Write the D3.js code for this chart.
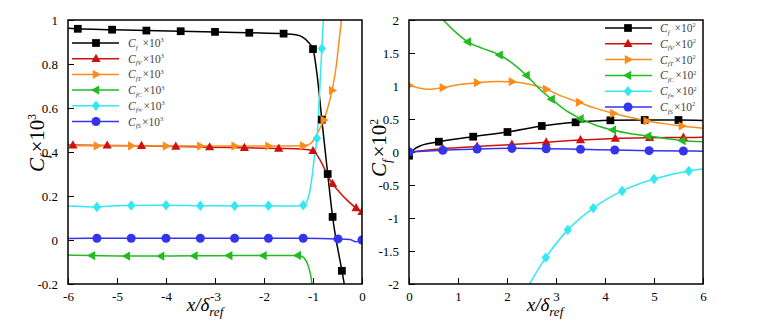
<!DOCTYPE html>
<html><head><meta charset="utf-8">
<script src="https://cdn.jsdelivr.net/npm/d3@7"></script>
<style>
html,body{margin:0;padding:0;background:#fff;}
svg{display:block;font-family:"Liberation Serif","DejaVu Serif",serif;}
svg text{font-family:"Liberation Serif","DejaVu Serif",serif;}
</style></head>
<body><svg id="c" width="759" height="328"></svg>
<script>
// ---------------- DATA ----------------
// Left panel (x/δref in [-6,0], Cf ×10^3)
const leftXTicks = [-6,-5,-4,-3,-2,-1,0];
const leftXTickLabels = ["-6","-5","-4","-3","-2","-1","0"];
const leftYTicks = [-0.2,0,0.2,0.4,0.6,0.8,1];
const leftYTickLabels = ["-0.2","0","0.2","0.4","0.6","0.8","1"];

const L_cf_line = [[-6,0.962],[-5.8,0.96],[-5.1,0.956],[-4.4,0.952],[-3.7,0.949],[-3.0,0.946],[-2.3,0.942],[-1.6,0.938],[-1.35,0.933],[-1.22,0.923],[-1.1,0.9],[-1.0,0.868],[-0.92,0.757],[-0.82,0.547],[-0.7,0.30],[-0.6,0.105],[-0.41,-0.14],[-0.33,-0.24]];
const L_cf_marks = [[-5.8,0.96],[-5.1,0.956],[-4.4,0.952],[-3.7,0.949],[-3.0,0.946],[-2.3,0.942],[-1.6,0.938],[-1.0,0.868],[-0.82,0.547],[-0.7,0.30],[-0.6,0.105],[-0.41,-0.14]];

const L_cfv_line = [[-6,0.432],[-5.2,0.43],[-4.5,0.428],[-3.8,0.425],[-3.1,0.422],[-2.4,0.419],[-1.7,0.416],[-1.2,0.413],[-1.0,0.405],[-0.9,0.38],[-0.8,0.34],[-0.7,0.29],[-0.6,0.255],[-0.45,0.215],[-0.3,0.18],[-0.12,0.145],[0,0.128]];
const L_cfv_marks = [[-5.9,0.431],[-5.2,0.43],[-4.5,0.428],[-3.8,0.425],[-3.11,0.422],[-2.4,0.419],[-1.7,0.416],[-1.0,0.405],[-0.6,0.255],[-0.12,0.145],[0,0.128]];

const L_cft_line = [[-6,0.428],[-5.41,0.428],[-4.71,0.428],[-4.0,0.427],[-3.3,0.427],[-2.6,0.427],[-1.91,0.427],[-1.2,0.428],[-1.1,0.432],[-1.0,0.45],[-0.9,0.49],[-0.78,0.545],[-0.7,0.6],[-0.61,0.68],[-0.52,0.8],[-0.46,0.92],[-0.42,1.0],[-0.39,1.07]];
const L_cft_marks = [[-5.41,0.428],[-4.71,0.428],[-4.0,0.427],[-3.3,0.427],[-2.6,0.427],[-1.91,0.427],[-1.2,0.428],[-0.78,0.545],[-0.61,0.68]];

const L_cfc_line = [[-6,-0.068],[-5.51,-0.071],[-4.8,-0.073],[-4.1,-0.073],[-3.42,-0.072],[-2.71,-0.071],[-2.01,-0.071],[-1.31,-0.07],[-1.22,-0.075],[-1.14,-0.095],[-1.08,-0.13],[-1.04,-0.17],[-1.01,-0.22]];
const L_cfc_marks = [[-5.51,-0.071],[-4.8,-0.073],[-4.1,-0.073],[-3.42,-0.072],[-2.71,-0.071],[-2.01,-0.071],[-1.31,-0.07]];

const L_cfi_line = [[-6,0.155],[-5.7,0.152],[-5.41,0.15],[-5.0,0.156],[-4.71,0.157],[-4.0,0.158],[-3.3,0.156],[-2.6,0.155],[-1.91,0.156],[-1.45,0.154],[-1.2,0.158],[-1.1,0.19],[-1.03,0.27],[-0.97,0.38],[-0.92,0.462],[-0.87,0.65],[-0.82,0.87],[-0.79,1.0],[-0.77,1.1]];
const L_cfi_marks = [[-5.41,0.15],[-4.71,0.157],[-4.0,0.158],[-3.3,0.156],[-2.6,0.155],[-1.91,0.156],[-1.2,0.158],[-0.92,0.462],[-0.82,0.87]];

const L_cfe_line = [[-6,0.007],[-5.41,0.008],[-4.71,0.008],[-4.0,0.008],[-3.3,0.008],[-2.6,0.008],[-1.91,0.008],[-1.2,0.008],[-0.5,0.005],[-0.25,0.002],[-0.12,-0.008],[-0.05,-0.004],[0,0.0]];
const L_cfe_marks = [[-5.41,0.008],[-4.71,0.008],[-4.0,0.008],[-3.3,0.008],[-2.6,0.008],[-1.91,0.008],[-1.2,0.008],[-0.49,0.005],[0,0.0]];

// Right panel (x/δref in [0,6], Cf ×10^2)
const rightXTicks = [0,1,2,3,4,5,6];
const rightXTickLabels = ["0","1","2","3","4","5","6"];
const rightYTicks = [-2,-1.5,-1,-0.5,0,0.5,1,1.5,2];
const rightYTickLabels = ["-2","-1.5","-1","-0.5","0","0.5","1","1.5","2"];

const R_cf_line = [[0,-0.056],[0.05,0.0],[0.12,0.05],[0.25,0.1],[0.4,0.13],[0.61,0.156],[1.31,0.232],[2.01,0.303],[2.71,0.394],[3.4,0.45],[4.11,0.48],[4.81,0.485],[5.5,0.485],[6,0.478]];
const R_cf_marks = [[0,-0.056],[0.61,0.156],[1.31,0.232],[2.01,0.303],[2.71,0.394],[3.4,0.45],[4.11,0.48],[4.81,0.485],[5.5,0.485]];

const R_cfv_line = [[0,0.0],[0.69,0.05],[1.39,0.083],[2.1,0.113],[2.8,0.148],[3.5,0.182],[4.21,0.205],[4.91,0.215],[5.6,0.22],[6,0.223]];
const R_cfv_marks = [[0.69,0.05],[1.39,0.083],[2.1,0.113],[2.8,0.148],[3.5,0.182],[4.21,0.205],[4.91,0.215],[5.6,0.22]];

const R_cft_line = [[0,1.01],[0.2,0.97],[0.4,0.95],[0.69,0.975],[1.0,1.02],[1.39,1.05],[1.8,1.07],[2.1,1.065],[2.5,1.02],[2.8,0.95],[3.1,0.85],[3.47,0.753],[3.8,0.665],[4.17,0.586],[4.5,0.525],[4.85,0.47],[5.2,0.43],[5.57,0.394],[6,0.359]];
const R_cft_marks = [[0,1.01],[0.69,0.975],[1.39,1.05],[2.1,1.065],[2.8,0.95],[3.47,0.753],[4.17,0.586],[4.85,0.47],[5.57,0.394]];

const R_cfc_line = [[0.65,2.04],[0.9,1.85],[1.2,1.67],[1.5,1.57],[1.85,1.47],[2.1,1.35],[2.4,1.16],[2.7,0.93],[2.91,0.8],[3.2,0.63],[3.5,0.505],[3.8,0.41],[4.16,0.333],[4.5,0.28],[4.88,0.242],[5.2,0.21],[5.58,0.171],[6,0.156]];
const R_cfc_marks = [[1.2,1.67],[1.85,1.47],[2.4,1.16],[2.91,0.8],[3.5,0.505],[4.16,0.333],[4.88,0.242],[5.58,0.171]];

const R_cfi_line = [[2.42,-2.05],[2.79,-1.6],[3.24,-1.18],[3.76,-0.85],[4.35,-0.59],[5.0,-0.41],[5.71,-0.288],[6,-0.258]];
const R_cfi_marks = [[2.79,-1.6],[3.24,-1.18],[3.76,-0.85],[4.35,-0.59],[5.0,-0.41],[5.71,-0.288]];

const R_cfe_line = [[0,0.0],[0.69,0.025],[1.39,0.045],[2.1,0.055],[2.8,0.05],[3.5,0.04],[4.2,0.03],[4.9,0.02],[5.6,0.015],[6,0.012]];
const R_cfe_marks = [[0,0.0],[0.69,0.025],[1.39,0.045],[2.1,0.055],[2.8,0.05],[3.5,0.04],[4.2,0.03],[4.9,0.02],[5.6,0.015]];

const seriesSubs = ["f","fV","fT","fC","f\u221E","fS"];
const seriesColors = ["#000000","#cc1111","#ff8c1a","#22bb22","#33e8f2","#3434ee"];
const seriesShapes = ["square","triangle","right","left","diamond","circle"];

// ---------------- DRAW ----------------
const FONT = "Liberation Serif, DejaVu Serif, serif";
const svg = d3.select("#c");
const panels = [
  {id:"L", x0:68, x1:362, y0:20, y1:284, xd:[-6,0], yd:[-0.2,1], xt:leftXTicks, xl:leftXTickLabels, yt:leftYTicks, yl:leftYTickLabels,
   xminor:0.2, yminor:0.05, exp:"3", lines:[L_cf_line,L_cfv_line,L_cft_line,L_cfc_line,L_cfi_line,L_cfe_line],
   marks:[L_cf_marks,L_cfv_marks,L_cft_marks,L_cfc_marks,L_cfi_marks,L_cfe_marks],
   leg:{x0:72,x1:119,mx:96,tx:128,y:43,dy:15.7}, ylab:{x:44,y:143}, xlab:{x:205}},
  {id:"R", x0:409, x1:703, y0:20, y1:284, xd:[0,6], yd:[-2,2], xt:rightXTicks, xl:rightXTickLabels, yt:rightYTicks, yl:rightYTickLabels,
   xminor:0.2, yminor:0.1, exp:"2", lines:[R_cf_line,R_cfv_line,R_cft_line,R_cfc_line,R_cfi_line,R_cfe_line],
   marks:[R_cf_marks,R_cfv_marks,R_cft_marks,R_cfc_marks,R_cfi_marks,R_cfe_marks],
   leg:{x0:605,x1:652,mx:628,tx:660,y:28,dy:15.8}, ylab:{x:386,y:148}, xlab:{x:545}}
];

function markerPath(shape){
  switch(shape){
    case "square": return d3.symbol(d3.symbolSquare, 60)();
    case "circle": return d3.symbol(d3.symbolCircle, 64)();
    case "diamond": return "M0,-5.2L4.2,0L0,5.2L-4.2,0Z";
    case "triangle": return "M0,-5L4.6,3.2L-4.6,3.2Z";
    case "right": return "M5,0L-3.2,-4.6L-3.2,4.6Z";
    case "left": return "M-5,0L3.2,-4.6L3.2,4.6Z";
  }
}

function cfLabel(sel, sub, exp, size, gap){
  sel.append("tspan").attr("font-style","italic").text("C");
  sel.append("tspan").attr("font-style","italic").attr("font-size",size*0.6).attr("dy",size*0.22).text(sub);
  sel.append("tspan").attr("dy",-size*0.22).attr("dx",gap).text("\u00D710");
  sel.append("tspan").attr("font-size",size*0.55).attr("dy",-size*0.4).text(exp);
}

panels.forEach(p=>{
  const x = d3.scaleLinear().domain(p.xd).range([p.x0,p.x1]);
  const y = d3.scaleLinear().domain(p.yd).range([p.y1,p.y0]);
  const g = svg.append("g");
  g.append("clipPath").attr("id","clip"+p.id).append("rect")
    .attr("x",p.x0).attr("y",p.y0).attr("width",p.x1-p.x0).attr("height",p.y1-p.y0);

  // minor + major ticks (inward)
  const xminors = d3.range(p.xd[0], p.xd[1]+1e-9, p.xminor);
  const yminors = d3.range(p.yd[0], p.yd[1]+1e-9, p.yminor);
  const xAxisG = g.append("g").attr("transform",`translate(0,${p.y1})`);
  xAxisG.call(d3.axisBottom(x).tickValues(xminors).tickSize(-3).tickFormat(""));
  xAxisG.call(d3.axisBottom(x).tickValues(p.xt).tickSize(-6).tickPadding(8).tickFormat((d,i)=>p.xl[i]));
  const yAxisG = g.append("g").attr("transform",`translate(${p.x0},0)`);
  yAxisG.call(d3.axisLeft(y).tickValues(yminors).tickSize(-3).tickFormat(""));
  yAxisG.call(d3.axisLeft(y).tickValues(p.yt).tickSize(-6).tickPadding(10).tickFormat((d,i)=>p.yl[i]));
  g.selectAll(".domain").remove();
  g.selectAll("g").attr("font-family",FONT);
  g.selectAll(".tick line").attr("stroke","#000").attr("stroke-width",1);
  g.selectAll(".tick text").attr("font-family",FONT).attr("font-size",13).attr("fill","#000");

  const plot = g.append("g").attr("clip-path",`url(#clip${p.id})`);
  const line = d3.line().x(d=>x(d[0])).y(d=>y(d[1])).curve(d3.curveMonotoneX);
  p.lines.forEach((ln,i)=>{
    plot.append("path").datum(ln).attr("d",line).attr("fill","none")
      .attr("stroke",seriesColors[i]).attr("stroke-width",1.5);
  });
  p.marks.forEach((mk,i)=>{
    plot.selectAll(null).data(mk).enter().append("path")
      .attr("d",markerPath(seriesShapes[i]))
      .attr("transform",d=>`translate(${x(d[0])},${y(d[1])})`)
      .attr("fill",seriesColors[i]);
  });

  // frame
  g.append("rect").attr("x",p.x0).attr("y",p.y0).attr("width",p.x1-p.x0).attr("height",p.y1-p.y0)
    .attr("fill","none").attr("stroke","#000").attr("stroke-width",1.5);

  // legend
  seriesSubs.forEach((s,i)=>{
    const ly = p.leg.y + i*p.leg.dy;
    g.append("line").attr("x1",p.leg.x0).attr("x2",p.leg.x1).attr("y1",ly).attr("y2",ly)
      .attr("stroke",seriesColors[i]).attr("stroke-width",1.5);
    g.append("path").attr("d",markerPath(seriesShapes[i])).attr("transform",`translate(${p.leg.mx},${ly})`)
      .attr("fill",seriesColors[i]);
    const t = g.append("text").attr("x",p.leg.tx).attr("y",ly+4).attr("font-size",11.5)
      .attr("font-family",FONT).attr("fill","#444");
    cfLabel(t, s, p.exp, 11.5, s==="f"?5:1);
  });

  // y label
  const yl = g.append("text").attr("transform",`translate(${p.ylab.x},${p.ylab.y}) rotate(-90)`)
    .attr("text-anchor","middle").attr("font-size",21).attr("font-family",FONT).attr("fill","#000");
  cfLabel(yl, "f", p.exp, 21, 2);

  // x label
  const xl = g.append("text").attr("x",p.xlab.x).attr("y",311).attr("text-anchor","middle")
    .attr("font-size",19).attr("font-family",FONT).attr("fill","#000").attr("font-style","italic");
  xl.append("tspan").text("x/\u03B4");
  xl.append("tspan").attr("font-size",13).attr("dy",5).text("ref");
});
</script></body></html>
